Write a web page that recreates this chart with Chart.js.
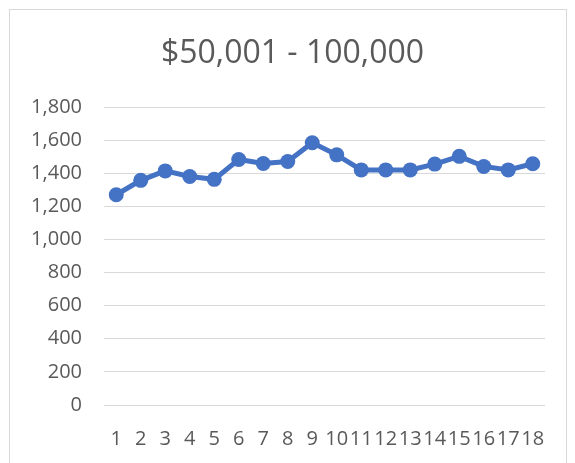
<!DOCTYPE html>
<html>
<head>
<meta charset="utf-8">
<script src="https://cdn.jsdelivr.net/npm/chart.js@4"></script>
<style>
  html, body { margin: 0; padding: 0; background: #fff; }
  #frame { position: absolute; left: 9px; top: 9px; width: 556px; height: 480px; border: 1px solid #d9d9d9; }
  #wrap { position: absolute; left: 0; top: 0; width: 575px; height: 463px; }
</style>
</head>
<body>
<div id="frame"></div>
<div id="wrap"><canvas id="lineChart" width="575" height="463"></canvas></div>
<script>
const labels = ['1', '2', '3', '4', '5', '6', '7', '8', '9', '10', '11', '12', '13', '14', '15', '16', '17', '18'];
const values = [1270, 1357, 1414, 1380, 1363, 1483, 1459, 1471, 1584, 1511, 1420, 1420, 1420, 1455, 1502, 1441, 1420, 1457];
const chartTitle = '$50,001 - 100,000';

const textColor = '#595959';
const fontFamily = "'Open Sans', 'Liberation Sans', sans-serif";

// shift the title box so it is centred like the original (not over the full canvas)
const titleShift = {
    id: 'titleShift',
    afterLayout(chart) {
        if (chart.titleBlock) chart.titleBlock.left = 40;
    }
};

const config = {
    type: 'line',
    data: {
        labels: labels,
        datasets: [
            {
                label: chartTitle,
                data: values,
                borderColor: '#4472C4',
                backgroundColor: '#4472C4',
                pointBackgroundColor: '#4472C4',
                pointBorderColor: '#4472C4',
                borderWidth: 5,
                pointRadius: 7.5,
                pointBorderWidth: 0,
                tension: 0,
            }
        ]
    },
    options: {
        responsive: false,
        animation: false,
        layout: {
            padding: { left: 0, right: 30, top: 0, bottom: 0 }
        },
        plugins: {
            legend: { display: false },
            tooltip: { enabled: false },
            title: {
                display: true,
                text: chartTitle,
                color: textColor,
                font: { family: fontFamily, size: 32, weight: 'normal' },
                padding: { top: 35, bottom: 33.6 }
            }
        },
        scales: {
            x: {
                offset: true,
                grid: { display: false },
                border: { display: false },
                ticks: {
                    color: textColor,
                    font: { family: fontFamily, size: 20 },
                    padding: 14,
                    autoSkip: false,
                    maxRotation: 0,
                    minRotation: 0
                },
                afterFit: function (scale) { scale.height = 58; }
            },
            y: {
                min: 0,
                max: 1800,
                grid: { color: '#d9d9d9', lineWidth: 1, drawTicks: false },
                border: { display: false },
                ticks: {
                    stepSize: 200,
                    color: textColor,
                    font: { family: fontFamily, size: 20 },
                    padding: 22,
                    callback: function (v) { return v.toLocaleString('en-US'); }
                },
                afterFit: function (scale) { scale.width = 104; }
            }
        }
    },
    plugins: [titleShift]
};

const ctx = document.getElementById('lineChart').getContext('2d');
new Chart(ctx, config);
</script>
</body>
</html>
